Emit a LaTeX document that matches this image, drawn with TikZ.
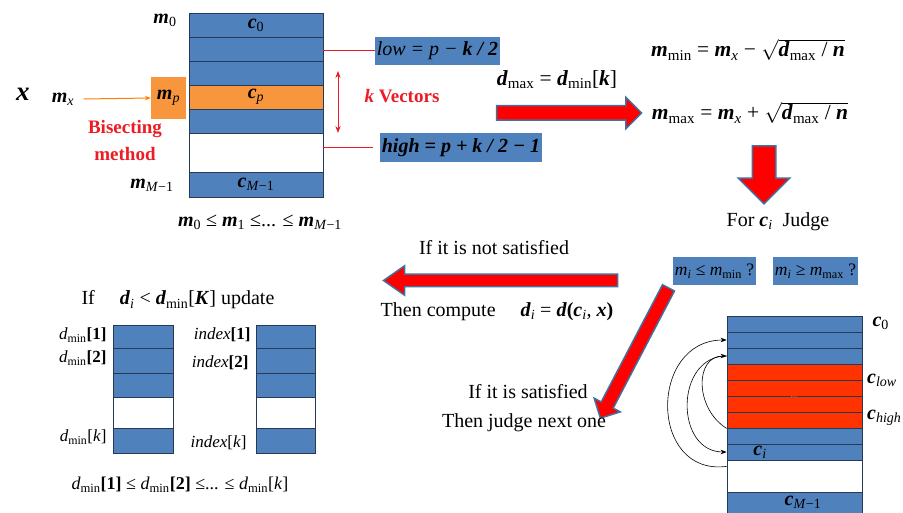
\documentclass[tikz,border=0pt]{standalone}
\usepackage{fontspec}
\setmainfont{Liberation Serif}
\usetikzlibrary{shapes.arrows,arrows.meta}

\definecolor{cellblue}{RGB}{79,129,189}
\definecolor{celledge}{RGB}{38,58,88}
\definecolor{cellorange}{RGB}{247,150,60}
\definecolor{cellred}{RGB}{255,51,0}
\definecolor{txtred}{RGB}{235,28,36}
\definecolor{arrowedge}{RGB}{65,113,156}

\newcommand{\bi}[1]{\textbf{\textit{#1}}}
\newcommand{\sbs}[1]{\textsubscript{#1}}

\tikzset{
  every node/.style={font=\fontsize{20}{23}\selectfont},
  formula/.style={font=\fontsize{21.5}{24}\selectfont},
  cell/.style={draw=celledge, line width=0.8pt, fill=cellblue, inner sep=0pt},
  bluebox/.style={fill=cellblue, inner sep=2pt},
  redtxt/.style={text=txtred, font=\fontsize{19}{27}\selectfont\bfseries},
  blockarrow/.style={single arrow, draw=arrowedge, line width=1.5pt, fill=red,
    inner xsep=0pt, single arrow head indent=0pt},
  jump/.style={-{Stealth[length=6pt]}, line width=0.6pt},
}

\begin{document}
\begin{tikzpicture}[x=1pt,y=-1pt]
\useasboundingbox (0,0) rectangle (903,513);

% ===== Sorted codebook (top left) =====
\node[cell, minimum width=134pt, minimum height=24pt] (a0) at (256,25) {\bi{c}\sbs{0}};
\foreach \n/\y in {a1/49,a2/73,a4/121} {
    \node[cell, minimum width=134pt, minimum height=24pt] (\n) at (256,\y) {};
}
\node[cell, fill=cellorange, minimum width=134pt, minimum height=24pt] (ap) at (256,97) {\bi{c}\sbs{\textit{p}}};
\node[cell, fill=white, minimum width=134pt, minimum height=39pt] (aw) at (256,152.5) {};
\node[cell, minimum width=134pt, minimum height=25pt] (aM) at (256,184.5) {\bi{c}\sbs{\textit{M}−1}};

\node (m0) at (165,20) {\bi{m}\sbs{0}};
\node (mM) at (152,185) {\bi{m}\sbs{\textit{M}−1}};
\node (ord) at (260,222) {\bi{m}\sbs{0} ≤ \bi{m}\sbs{1} ≤... ≤ \bi{m}\sbs{\textit{M}−1}};

% ===== Input vector =====
\node[font=\fontsize{27}{29}\selectfont] (xv) at (23,94) {\bi{x}};
\node (mx) at (63,99) {\bi{m}\sbs{\textit{x}}};
\node[fill=cellorange, minimum width=35pt, minimum height=42pt, inner sep=0pt] (mp) at (168.5,98) {\bi{m}\sbs{\textit{p}}};
\draw[-{Stealth[length=6pt]}, draw=orange, line width=1pt] (mx.east) ++(6pt,0) -- (mp.west);
\node[redtxt, align=center] (bis) at (125,141) {Bisecting\\method};

% ===== k vectors =====
\node[bluebox, minimum width=121pt, minimum height=28pt] (low) at (437.5,51) {\textit{low = p −} \bi{k / 2}};
\node[bluebox, minimum width=156pt, minimum height=29pt] (high) at (461,147.5) {\bi{high = p + k / 2 − 1}};
\draw[txtred, line width=1pt] (low.west -| a1.east) -- (low.west);
\draw[txtred, line width=1pt, shorten >=7pt] (high.west -| aw.east) -- (high.west);
\coordinate (kt) at (338,71);
\coordinate (kb) at (338,133);
\draw[{Stealth[length=7pt]}-{Stealth[length=7pt]}, txtred, line width=1pt] (kt) -- (kb);
\node[redtxt] (kv) at (402,96) {\textit{k} Vectors};

% ===== Range =====
\node[formula] (dmax) at (557,80) {\bi{d}\sbs{max} = \bi{d}\sbs{min}[\bi{k}]};
\node[blockarrow, minimum height=145pt, inner ysep=6.5pt, single arrow head extend=8.5pt] (arR) at (565.5,113) {};
\node[formula] (mmin) at (748,50) {\bi{m}\sbs{min} = \bi{m}\sbs{\textit{x}} − $\sqrt{\mbox{\bi{d}\sbs{max} / \bi{n}}}$};
\node[formula] (mmax) at (750,113) {\bi{m}\sbs{max} = \bi{m}\sbs{\textit{x}} + $\sqrt{\mbox{\bi{d}\sbs{max} / \bi{n}}}$};
\node[blockarrow, rotate=-90, minimum height=58pt, inner ysep=11pt, single arrow head extend=14pt] (arD) at (764,169) {};
\node (judge) at (778,222) {For \bi{c}\sbs{\textit{i}} \ Judge};

% ===== Judge =====
\node[bluebox, minimum width=83pt, minimum height=28pt, font=\fontsize{17.5}{19}\selectfont] (q1) at (714.5,271) {\textit{m}\sbs{\textit{i}} ≤ \textit{m}\sbs{min} ?};
\node[bluebox, minimum width=83pt, minimum height=28pt, font=\fontsize{17.5}{19}\selectfont] (q2) at (815.5,271) {\textit{m}\sbs{\textit{i}} ≥ \textit{m}\sbs{max} ?};

\node (nsat) at (494,248) {If it is not satisfied};
\node[blockarrow, rotate=180, minimum height=234pt, inner ysep=5.5pt, single arrow head extend=8.5pt, single arrow tip angle=70] (arL) at (505,280.5) {};
\node (comp) at (497,312) {Then compute \quad \bi{d}\sbs{\textit{i}} = \bi{d}\textbf{(}\bi{c}\sbs{\textit{i}}, \bi{x}\textbf{)}};

\node[blockarrow, rotate=242.4, minimum height=147pt, inner ysep=6pt, single arrow head extend=8pt] (arS) at (636,350) {};
\node (sat) at (528,392) {If it is satisfied};
\node (nxt) at (524,423) {Then judge next one};

% ===== Codebook search (bottom right) =====
\foreach \n/\y in {b0/324,b1/340,b2/356,b3/436,bi/452} {
    \node[cell, minimum width=135pt, minimum height=16pt] (\n) at (794.5,\y) {};
}
\foreach \n/\y in {r1/372,r2/388,r3/404,r4/420} {
    \node[cell, fill=cellred, minimum width=135pt, minimum height=16pt] (\n) at (794.5,\y) {};
}
\node[cell, fill=white, minimum width=135pt, minimum height=32pt] (bw) at (794.5,476) {};
\node[cell, minimum width=135pt, minimum height=28pt] (bM) at (794.5,506) {};
\node (cM) at (803,502) {\bi{c}\sbs{\textit{M}−1}};
\node (ci) at (760,452) {\bi{c}\sbs{\textit{i}}};
\node[text=black!45, font=\small] (dots) at (794,397) {...};

\node[anchor=west] (c0) at (869,323) {\bi{c}\sbs{0}};
\node[anchor=west, inner sep=1pt] (clow) at (866,380) {\bi{c}\sbs{\textit{low}}};
\node[anchor=west, inner sep=1pt] (chigh) at (866,418) {\bi{c}\sbs{\textit{high}}};

\draw[jump] ([yshift=-6pt]bi.south west) .. controls +(-78,10) and +(-78,0) .. (b1.west);
\draw[jump] (b2.west) .. controls +(-52,0) and +(-52,0) .. (bi.west);
\draw[jump] (r4.south west) .. controls +(-32,-20) and +(-32,0) .. (b2.west);

% ===== Update (bottom left) =====
\node (upd) at (178,300) {If \quad \bi{d}\sbs{\textit{i}} < \bi{d}\sbs{min}[\bi{K}] update};
\foreach \n/\y/\h in {d1/336.5/23,d2/360.5/25,d3/385/24,dk/440.5/25} {
    \node[cell, minimum width=60pt, minimum height=\h pt] (\n) at (143,\y) {};
    \node[cell, minimum width=59pt, minimum height=\h pt] (i\n) at (285.5,\y) {};
}
\node[cell, fill=white, minimum width=60pt, minimum height=31pt] (dw) at (143,412.5) {};
\node[cell, fill=white, minimum width=59pt, minimum height=31pt] (idw) at (285.5,412.5) {};

\node[anchor=east, font=\fontsize{17}{19}\selectfont] (ld1) at (110,335) {\textit{d}\sbs{min}\textbf{[1]}};
\node[anchor=east, font=\fontsize{17}{19}\selectfont] (ld2) at (110,358) {\textit{d}\sbs{min}\textbf{[2]}};
\node[anchor=east, font=\fontsize{17}{19}\selectfont] (ldk) at (110,437) {\textit{d}\sbs{min}[\textit{k}]};
\node[anchor=east, font=\fontsize{17}{19}\selectfont] (li1) at (254,335) {\textit{index}\textbf{[1]}};
\node[anchor=east, font=\fontsize{17}{19}\selectfont] (li2) at (252,363) {\textit{index}\textbf{[2]}};
\node[anchor=east, font=\fontsize{17}{19}\selectfont] (lik) at (250,443) {\textit{index}[\textit{k}]};

\node[font=\fontsize{18}{20}\selectfont] (dord) at (180,485) {\textit{d}\sbs{min}\textbf{[1]} ≤ \textit{d}\sbs{min}\textbf{[2]} ≤... ≤ \textit{d}\sbs{min}[\textit{k}]};

\end{tikzpicture}
\end{document}
